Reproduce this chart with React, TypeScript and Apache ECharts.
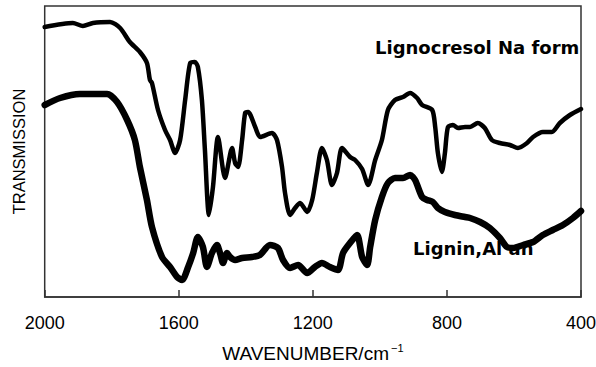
import React, { useEffect, useRef } from "react";
import * as echarts from "echarts";

// Lignocresol Na form (upper curve)
const upperWavenumber = [2000,1916,1886,1856,1805,1775,1746,1716,1695,1686,1680,1662,1641,1626,1611,1596,1581,1566,1552,1543,1531,1522,1510,1498,1483,1462,1441,1432,1423,1411,1402,1393,1372,1357,1322,1307,1292,1283,1268,1253,1238,1217,1202,1188,1173,1158,1143,1128,1113,1089,1074,1053,1035,1014,994,976,955,931,910,889,874,844,835,827,815,806,797,782,767,746,731,708,687,666,642,612,588,561,543,514,487,463,433,400];
const upperTransmission = [270,274,271,274,275,269,255,245,234,217,214,187,167,157,144,157,197,234,235,230,197,147,82,110,160,119,149,134,130,157,184,185,170,160,164,157,130,104,82,89,94,85,97,124,149,137,112,124,149,140,137,128,112,137,157,187,197,200,204,199,192,187,170,144,125,144,170,172,169,170,170,174,169,157,154,152,149,154,160,165,165,174,182,188];

// Lignin, Al (lower curve)
const lowerWavenumber = [2000,1954,1895,1814,1784,1754,1731,1716,1695,1680,1650,1626,1605,1590,1572,1557,1543,1528,1516,1501,1486,1477,1468,1456,1447,1432,1411,1382,1358,1328,1304,1289,1268,1244,1217,1194,1173,1149,1125,1110,1089,1068,1053,1038,1029,1014,994,976,955,931,910,895,874,859,842,827,806,776,746,731,701,672,642,621,603,573,543,514,484,454,424,400];
const lowerTransmission = [192,199,203,203,195,177,157,130,97,70,40,30,20,17,30,44,60,50,30,44,52,44,34,44,40,37,39,40,42,52,49,37,29,32,24,30,34,30,27,44,54,62,40,32,50,77,100,114,119,119,122,117,100,97,95,89,85,82,80,79,75,69,59,50,49,52,55,62,67,72,79,86];

const xTicks = { min: 400, max: 2000, interval: 400 };
const seriesLabels = ["Lignocresol Na form", "Lignin,Al an"];

const AXIS_FONT = "'Liberation Sans', Arial, sans-serif";
const LABEL_FONT = "'DejaVu Sans', sans-serif";

export default function App() {
  const ref = useRef<HTMLDivElement>(null);
  useEffect(() => {
    if (!ref.current) return;
    const chart = echarts.init(ref.current, undefined, { renderer: "svg" });
    const upper = upperWavenumber.map((w, i) => [w, upperTransmission[i]]);
    const lower = lowerWavenumber.map((w, i) => [w, lowerTransmission[i]]);
    chart.setOption({
      animation: false,
      backgroundColor: "#fff",
      grid: {
        left: 44.7,
        right: 15,
        top: 6,
        bottom: 70,
        show: true,
        borderColor: "#333",
        borderWidth: 1.5,
        backgroundColor: "transparent",
        containLabel: false,
        outerBoundsMode: "none",
      },
      xAxis: {
        type: "value",
        inverse: true,
        min: xTicks.min,
        max: xTicks.max,
        interval: xTicks.interval,
        splitLine: { show: false },
        axisLine: { show: true, lineStyle: { color: "#333", width: 1.5 } },
        axisTick: { show: true, inside: true, length: 7, lineStyle: { color: "#333", width: 1.5 } },
        axisLabel: {
          color: "#000",
          fontSize: 18,
          fontFamily: AXIS_FONT,
          margin: 17,
          formatter: (v: number) => String(v),
        },
        name: "WAVENUMBER/cm{sup|−1}",
        nameLocation: "middle",
        nameGap: 45,
        nameTextStyle: {
          color: "#000",
          fontSize: 19,
          fontFamily: AXIS_FONT,
          rich: {
            sup: { fontSize: 11, fontFamily: AXIS_FONT, color: "#000", padding: [0, 0, 12, 2] },
          },
        },
      },
      yAxis: {
        type: "value",
        min: 0,
        max: 291,
        axisLine: { show: false },
        axisTick: { show: false },
        axisLabel: { show: false },
        splitLine: { show: false },
        name: "TRANSMISSION",
        nameLocation: "middle",
        nameGap: 17,
        nameTextStyle: { color: "#000", fontSize: 16.5, fontFamily: AXIS_FONT },
      },
      graphic: [
        {
          type: "text",
          left: 375,
          top: 38,
          z: 1,
          style: { text: seriesLabels[0], font: `bold 18px ${LABEL_FONT}`, fill: "#000" },
        },
        {
          type: "text",
          left: 413,
          top: 239,
          z: 1,
          style: { text: seriesLabels[1], font: `bold 18px ${LABEL_FONT}`, fill: "#000" },
        },
      ],
      series: [
        {
          type: "line",
          name: seriesLabels[0],
          data: upper,
          showSymbol: false,
          smooth: 0.25,
          z: 5,
          lineStyle: { color: "#000", width: 4.5, join: "round", cap: "round" },
        },
        {
          type: "line",
          name: seriesLabels[1],
          data: lower,
          showSymbol: false,
          smooth: 0.25,
          z: 5,
          lineStyle: { color: "#000", width: 6.5, join: "round", cap: "round" },
        },
      ],
    });
    return () => chart.dispose();
  }, []);
  return (
    <div
      ref={ref}
      style={{ position: "fixed", left: 0, top: 0, width: 596, height: 367, background: "#fff" }}
    />
  );
}
